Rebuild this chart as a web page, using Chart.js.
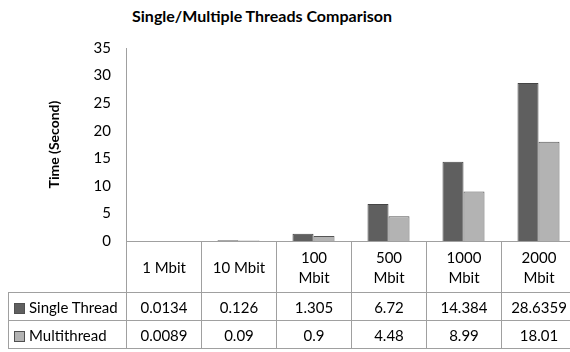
<!DOCTYPE html>
<html>
<head>
<meta charset="utf-8">
<script src="https://cdn.jsdelivr.net/npm/chart.js@4.4.1/dist/chart.umd.min.js"></script>
<style>
  html, body { margin: 0; padding: 0; width: 570px; height: 352px; overflow: hidden; background: #fff; }
  body { position: relative; font-family: Lato, "Noto Sans", sans-serif; color: #000; }
  #titulo { position: absolute; left: 0; top: 6px; width: 524px; text-align: center; font-weight: bold; font-size: 16px; }
  #caja { position: absolute; left: 0; top: 0; width: 580px; height: 243px; }
  #tabla { position: absolute; top: 241px; left: 8px; border-collapse: collapse; table-layout: fixed; font-size: 15px; }
  #tabla td { border: 1px solid #a0a0a0; text-align: center; padding: 0; }
  #tabla tr.cab td { height: 50px; line-height: 20px; }
  #tabla tr.fila td { height: 27px; }
  #tabla td.vacia { border-top: none; border-left: none; }
  #tabla td.serie { text-align: left; padding-left: 5px; white-space: nowrap; }
  .marca { display: inline-block; width: 9px; height: 9px; border: 1px solid #505050; margin-right: 4px; vertical-align: -1px; }
</style>
</head>
<body>
<div id="titulo">Single/Multiple Threads Comparison</div>
<div id="caja"><canvas id="grafica"></canvas></div>
<table id="tabla"></table>
<script>
// datos
const categorias = [['1 Mbit'], ['10 Mbit'], ['100', 'Mbit'], ['500', 'Mbit'], ['1000', 'Mbit'], ['2000', 'Mbit']];
const seriesNombres = ['Single Thread', 'Multithread'];
const singleThread = [0.0134, 0.126, 1.305, 6.72, 14.384, 28.6359];
const multiThread = [0.0089, 0.09, 0.9, 4.48, 8.99, 18.01];
const ticksY = [0, 5, 10, 15, 20, 25, 30, 35];

const colores = ['#5f5f5f', '#b3b3b3'];
const BASE_Y = 241; // donde va la línea del cero / parte de arriba de la tabla

// tabla de datos debajo del eje
function armarTabla(chart) {
  const area = chart.chartArea;
  const anchoCat = (area.right - area.left) / categorias.length;
  const tabla = document.getElementById('tabla');

  let html = `<colgroup><col style="width:${area.left - 8}px">`;
  categorias.forEach(() => { html += `<col style="width:${anchoCat}px">`; });
  html += `</colgroup>`;

  html += `<tr class="cab"><td class="vacia"></td>`;
  categorias.forEach(c => { html += `<td>${c.join('<br>')}</td>`; });
  html += `</tr>`;

  [singleThread, multiThread].forEach((serie, i) => {
    html += `<tr class="fila"><td class="serie"><span class="marca" style="background:${colores[i]}"></span>${seriesNombres[i]}</td>`;
    serie.forEach(v => { html += `<td>${v}</td>`; });
    html += `</tr>`;
  });

  tabla.innerHTML = html;
  tabla.style.width = (area.left - 8 + anchoCat * categorias.length) + 'px';
  tabla.style.top = Math.round(area.bottom) + 'px';
}

// ajusta el alto del canvas para que el cero quede en BASE_Y
let ajustado = false;
function ajustarAlto(chart) {
  if (ajustado) return;
  ajustado = true;
  const dif = BASE_Y - chart.chartArea.bottom;
  if (Math.abs(dif) > 0.3) {
    const caja = document.getElementById('caja');
    caja.style.height = (caja.clientHeight + dif) + 'px';
    chart.resize();
  }
}

const grafica = new Chart(document.getElementById('grafica'), {
  type: 'bar',
  data: {
    labels: categorias,
    datasets: [{
      label: seriesNombres[0],
      data: singleThread,
      backgroundColor: colores[0],
      borderColor: '#454545',
      borderWidth: 1,
      barPercentage: 1,
      categoryPercentage: 0.56
    }, {
      label: seriesNombres[1],
      data: multiThread,
      backgroundColor: colores[1],
      borderColor: '#555555',
      borderWidth: 1,
      barPercentage: 1,
      categoryPercentage: 0.56
    }]
  },
  options: {
    responsive: true,
    maintainAspectRatio: false,
    animation: false,
    layout: { padding: { top: 48, right: 4, bottom: 0, left: 0 } },
    plugins: {
      legend: { display: false },
      tooltip: { enabled: false }
    },
    scales: {
      x: {
        ticks: { display: false },
        grid: { display: false, drawTicks: false },
        border: { color: '#a0a0a0' },
        afterFit: s => { s.height = 2; }
      },
      y: {
        min: 0,
        max: 35,
        afterBuildTicks: s => { s.ticks = ticksY.map(v => ({ value: v })); },
        ticks: { color: '#000', font: { family: 'Lato', size: 15 }, padding: 15 },
        grid: { display: false, drawTicks: false },
        border: { color: '#a0a0a0' },
        title: {
          display: true,
          text: 'Time (Second)',
          color: '#000',
          font: { family: 'Lato', size: 14, weight: 'bold' },
          padding: { top: 46, bottom: 0 }
        },
        afterFit: s => { s.width = 126; }
      }
    }
  },
  plugins: [{
    id: 'tablaDatos',
    afterRender: chart => {
      armarTabla(chart);
      ajustarAlto(chart);
    }
  }]
});
</script>
</body>
</html>
